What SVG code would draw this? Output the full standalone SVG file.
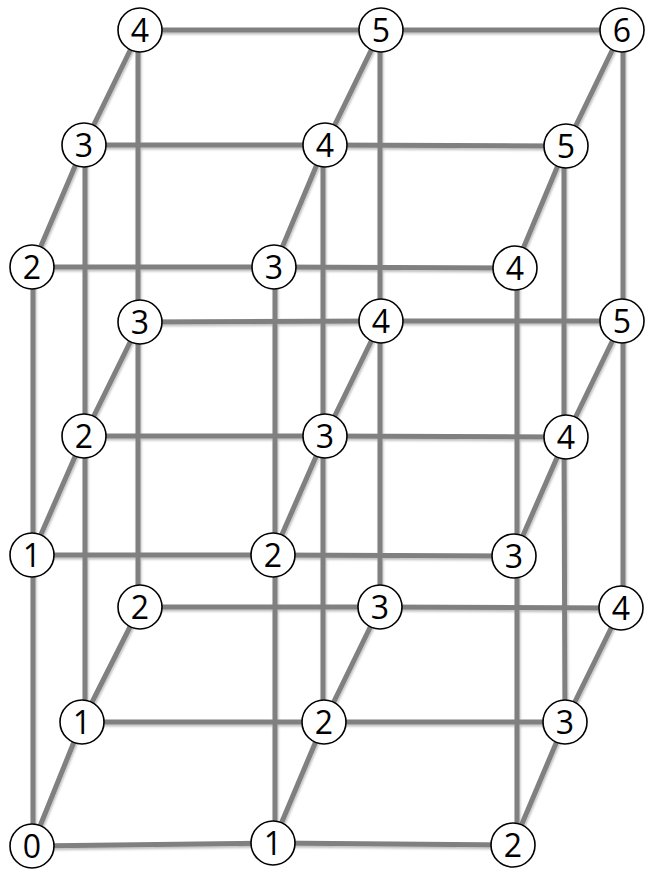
<svg xmlns="http://www.w3.org/2000/svg" width="647" height="872" viewBox="0 0 647 872">
<defs>
<filter id="sh" x="-10%" y="-10%" width="120%" height="120%">
<feDropShadow dx="1" dy="2" stdDeviation="1.2" flood-color="#000" flood-opacity="0.25"/>
</filter>
<style>
.e{stroke:#808080;stroke-width:5;fill:none}
.n circle{fill:#fff;stroke:#000;stroke-width:1.6}
.n text{font-family:"Open Sans","Liberation Sans",sans-serif;font-size:32px;fill:#000;text-anchor:middle}
</style>
</defs>
<rect width="647" height="872" fill="#fff"/>
<g id="connectors" filter="url(#sh)">
<!-- horizontal rows -->
<polyline class="e" points="140,30 381,30 622,30"/>
<polyline class="e" points="84,145 325,145 566,146"/>
<polyline class="e" points="32,267 274,267 515,268"/>
<polyline class="e" points="140,322 381,321 622,321"/>
<polyline class="e" points="84,436 325,436 566,437"/>
<polyline class="e" points="32,555 273,555 514,556"/>
<polyline class="e" points="140,607 380,607 621,608"/>
<polyline class="e" points="82,722 324,722 565,722"/>
<polyline class="e" points="32,846 273,843 513,845"/>
<!-- verticals -->
<polyline class="e" points="33,267 33,555 33,846"/>
<polyline class="e" points="275,267 275,555 275,843"/>
<polyline class="e" points="517,268 517,556 517,845"/>
<polyline class="e" points="85,145 85,436 85,722"/>
<polyline class="e" points="323,145 323,436 323,722"/>
<polyline class="e" points="564,146 564,437 565,722"/>
<polyline class="e" points="138,30 138,322 138,607"/>
<polyline class="e" points="380,30 380,321 380,607"/>
<polyline class="e" points="623,30 623,321 623,607"/>
<!-- diagonals -->
<polyline class="e" points="32,267 84,145 140,30"/>
<polyline class="e" points="274,267 325,145 381,30"/>
<polyline class="e" points="515,268 566,146 622,30"/>
<polyline class="e" points="32,555 84,436 140,322"/>
<polyline class="e" points="273,555 325,436 381,321"/>
<polyline class="e" points="514,556 566,437 622,321"/>
<polyline class="e" points="32,846 82,722 140,607"/>
<polyline class="e" points="273,843 324,722 380,607"/>
<polyline class="e" points="513,845 565,722 621,608"/>
</g>
<g id="n-l3-b1" class="n"><circle cx="140" cy="30" r="22"/><text x="140" y="42">4</text></g>
<g id="n-l3-b2" class="n"><circle cx="381" cy="30" r="22"/><text x="381" y="42">5</text></g>
<g id="n-l3-b3" class="n"><circle cx="622" cy="30" r="22"/><text x="622" y="42">6</text></g>
<g id="n-l3-m1" class="n"><circle cx="84" cy="145" r="22"/><text x="84" y="157">3</text></g>
<g id="n-l3-m2" class="n"><circle cx="325" cy="145" r="22"/><text x="325" y="157">4</text></g>
<g id="n-l3-m3" class="n"><circle cx="566" cy="146" r="22"/><text x="566" y="158">5</text></g>
<g id="n-l3-f1" class="n"><circle cx="32" cy="267" r="22"/><text x="32" y="279">2</text></g>
<g id="n-l3-f2" class="n"><circle cx="274" cy="267" r="22"/><text x="274" y="279">3</text></g>
<g id="n-l3-f3" class="n"><circle cx="515" cy="268" r="22"/><text x="515" y="280">4</text></g>
<g id="n-l2-b1" class="n"><circle cx="140" cy="322" r="22"/><text x="140" y="334">3</text></g>
<g id="n-l2-b2" class="n"><circle cx="381" cy="321" r="22"/><text x="381" y="333">4</text></g>
<g id="n-l2-b3" class="n"><circle cx="622" cy="321" r="22"/><text x="622" y="333">5</text></g>
<g id="n-l2-m1" class="n"><circle cx="84" cy="436" r="22"/><text x="84" y="448">2</text></g>
<g id="n-l2-m2" class="n"><circle cx="325" cy="436" r="22"/><text x="325" y="448">3</text></g>
<g id="n-l2-m3" class="n"><circle cx="566" cy="437" r="22"/><text x="566" y="449">4</text></g>
<g id="n-l2-f1" class="n"><circle cx="32" cy="555" r="22"/><text x="32" y="567">1</text></g>
<g id="n-l2-f2" class="n"><circle cx="273" cy="555" r="22"/><text x="273" y="567">2</text></g>
<g id="n-l2-f3" class="n"><circle cx="514" cy="556" r="22"/><text x="514" y="568">3</text></g>
<g id="n-l1-b1" class="n"><circle cx="140" cy="607" r="22"/><text x="140" y="619">2</text></g>
<g id="n-l1-b2" class="n"><circle cx="380" cy="607" r="22"/><text x="380" y="619">3</text></g>
<g id="n-l1-b3" class="n"><circle cx="621" cy="608" r="22"/><text x="621" y="620">4</text></g>
<g id="n-l1-m1" class="n"><circle cx="82" cy="722" r="22"/><text x="82" y="734">1</text></g>
<g id="n-l1-m2" class="n"><circle cx="324" cy="722" r="22"/><text x="324" y="734">2</text></g>
<g id="n-l1-m3" class="n"><circle cx="565" cy="722" r="22"/><text x="565" y="734">3</text></g>
<g id="n-l1-f1" class="n"><circle cx="32" cy="846" r="22"/><text x="32" y="858">0</text></g>
<g id="n-l1-f2" class="n"><circle cx="273" cy="843" r="22"/><text x="273" y="855">1</text></g>
<g id="n-l1-f3" class="n"><circle cx="513" cy="845" r="22"/><text x="513" y="857">2</text></g>
</svg>
